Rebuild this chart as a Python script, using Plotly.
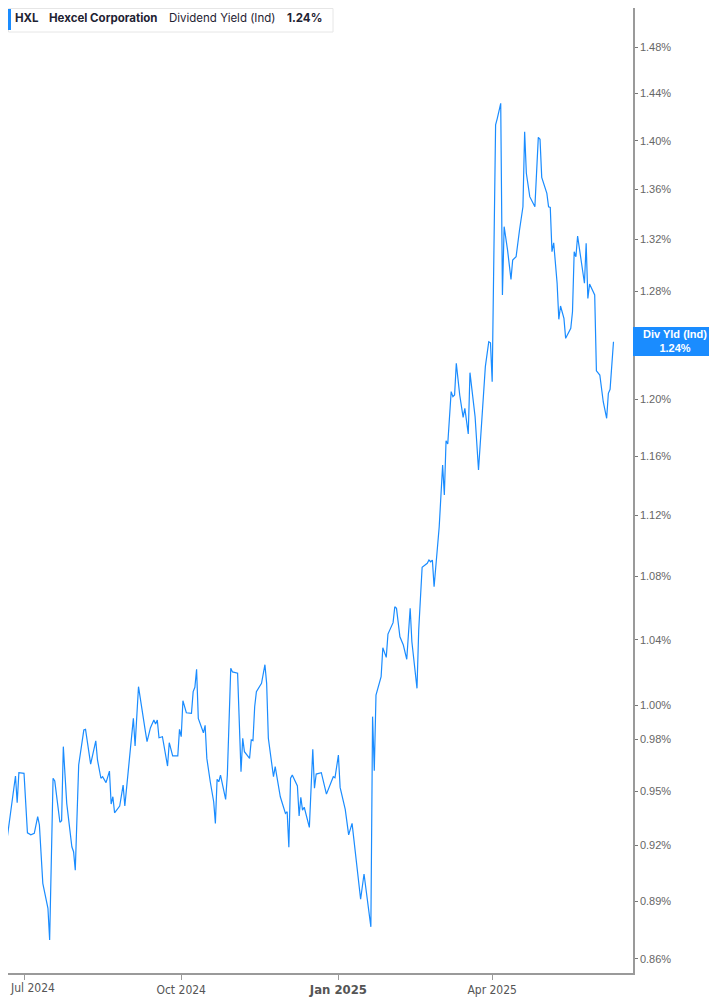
import plotly.graph_objects as go

# ---- data ----
dates = [
    "2024-06-17", "2024-06-18", "2024-06-21", "2024-06-26", "2024-06-27", "2024-06-28",
    "2024-07-01", "2024-07-03", "2024-07-05", "2024-07-07", "2024-07-09", "2024-07-10",
    "2024-07-12", "2024-07-15", "2024-07-16", "2024-07-18", "2024-07-19", "2024-07-22",
    "2024-07-23", "2024-07-24", "2024-07-26", "2024-07-29", "2024-07-30", "2024-07-31",
    "2024-08-02", "2024-08-05", "2024-08-06", "2024-08-09", "2024-08-12", "2024-08-13",
    "2024-08-15", "2024-08-16", "2024-08-18", "2024-08-20", "2024-08-21", "2024-08-22",
    "2024-08-23", "2024-08-26", "2024-08-28", "2024-08-29", "2024-08-31",
    "2024-09-03", "2024-09-04", "2024-09-06", "2024-09-10", "2024-09-11", "2024-09-13",
    "2024-09-15", "2024-09-16", "2024-09-17", "2024-09-18", "2024-09-20", "2024-09-23",
    "2024-09-24", "2024-09-26", "2024-09-29", "2024-09-30",
    "2024-10-01", "2024-10-02", "2024-10-04", "2024-10-07", "2024-10-08", "2024-10-09",
    "2024-10-10", "2024-10-11", "2024-10-14", "2024-10-15", "2024-10-16", "2024-10-18",
    "2024-10-20", "2024-10-21", "2024-10-22", "2024-10-23", "2024-10-24", "2024-10-27",
    "2024-10-28", "2024-10-30", "2024-10-31",
    "2024-11-03", "2024-11-05", "2024-11-06", "2024-11-07", "2024-11-10", "2024-11-11",
    "2024-11-12", "2024-11-13", "2024-11-14", "2024-11-16", "2024-11-17", "2024-11-19",
    "2024-11-20", "2024-11-21", "2024-11-24", "2024-11-25", "2024-11-28",
    "2024-12-01", "2024-12-02", "2024-12-03", "2024-12-04", "2024-12-05", "2024-12-08",
    "2024-12-09", "2024-12-10", "2024-12-11", "2024-12-12", "2024-12-15", "2024-12-17",
    "2024-12-18", "2024-12-19", "2024-12-22", "2024-12-25", "2024-12-29", "2024-12-30",
    "2025-01-01", "2025-01-02", "2025-01-05", "2025-01-07", "2025-01-09", "2025-01-11",
    "2025-01-14", "2025-01-16", "2025-01-20", "2025-01-21", "2025-01-22", "2025-01-23",
    "2025-01-25", "2025-01-26", "2025-01-27", "2025-01-29", "2025-01-30",
    "2025-02-02", "2025-02-03", "2025-02-04", "2025-02-06", "2025-02-08", "2025-02-10",
    "2025-02-12", "2025-02-13", "2025-02-16", "2025-02-17", "2025-02-19", "2025-02-22",
    "2025-02-23", "2025-02-24", "2025-02-25", "2025-02-26",
    "2025-03-01", "2025-03-03", "2025-03-04", "2025-03-05", "2025-03-06", "2025-03-08",
    "2025-03-09", "2025-03-10", "2025-03-11", "2025-03-13", "2025-03-15", "2025-03-16",
    "2025-03-18", "2025-03-19", "2025-03-22", "2025-03-24", "2025-03-27", "2025-03-28",
    "2025-03-30", "2025-03-31",
    "2025-04-01", "2025-04-03", "2025-04-04", "2025-04-06", "2025-04-07", "2025-04-08",
    "2025-04-10", "2025-04-12", "2025-04-13", "2025-04-15", "2025-04-17", "2025-04-19",
    "2025-04-20", "2025-04-21", "2025-04-23", "2025-04-26", "2025-04-28", "2025-04-29",
    "2025-04-30",
    "2025-05-03", "2025-05-04", "2025-05-05", "2025-05-06", "2025-05-07", "2025-05-09",
    "2025-05-10", "2025-05-11", "2025-05-13", "2025-05-14", "2025-05-17", "2025-05-18",
    "2025-05-19", "2025-05-20", "2025-05-21", "2025-05-25", "2025-05-26", "2025-05-27",
    "2025-05-28", "2025-05-31",
    "2025-06-01", "2025-06-03", "2025-06-05", "2025-06-07", "2025-06-08", "2025-06-09",
    "2025-06-11",
]

yield_pct = [
    0.9443, 0.9485, 0.9230, 0.9589, 0.9437, 0.9608,
    0.9604, 0.9270, 0.9259, 0.9267, 0.9359, 0.9313,
    0.8995, 0.8862, 0.8696, 0.9576, 0.9560, 0.9328,
    0.9337, 0.9758, 0.9434, 0.9193, 0.9166, 0.9066,
    0.9652, 0.9855, 0.9859, 0.9657, 0.9792, 0.9681,
    0.9576, 0.9585, 0.9551, 0.9617, 0.9430, 0.9471,
    0.9381, 0.9419, 0.9537, 0.9419, 0.9617,
    0.9924, 0.9762, 1.0113, 0.9849, 0.9787, 0.9869,
    0.9914, 0.9890, 0.9914, 0.9810, 0.9816, 0.9646,
    0.9781, 0.9704, 0.9704, 0.9859,
    0.9816, 1.0029, 0.9957, 0.9954, 1.0083, 1.0109,
    1.0218, 0.9924, 0.9839, 0.9883, 0.9690, 0.9556,
    0.9443, 0.9322, 0.9570, 0.9556, 0.9594, 0.9456,
    0.9594, 1.0224, 1.0202,
    1.0194, 0.9613, 0.9807, 0.9729, 0.9690, 0.9797,
    0.9793, 0.9993, 1.0083, 1.0121, 1.0133, 1.0246,
    1.0133, 0.9807, 0.9585, 0.9642, 0.9471,
    0.9378, 0.9387, 0.9190, 0.9576, 0.9594, 0.9532,
    0.9363, 0.9468, 0.9396, 0.9412, 0.9300, 0.9742,
    0.9519, 0.9600, 0.9608, 0.9486, 0.9585, 0.9579,
    0.9709, 0.9524, 0.9400, 0.9258, 0.9322, 0.9157,
    0.8910, 0.9045, 0.8765, 0.9934, 0.9619, 1.0063,
    1.0133, 1.0173, 1.0350, 1.0291, 1.0435,
    1.0506, 1.0606, 1.0596, 1.0418, 1.0367, 1.0279,
    1.0596, 1.0387, 1.0103, 1.0460, 1.0858, 1.0884,
    1.0905, 1.0894, 1.0905, 1.0733,
    1.1124, 1.1540, 1.1336, 1.1709, 1.1686, 1.2056,
    1.2020, 1.2032, 1.2261, 1.2032, 1.1873, 1.1937,
    1.1756, 1.2193, 1.1877, 1.1506, 1.2087, 1.2237,
    1.2420, 1.2412,
    1.2127, 1.4132, 1.4188, 1.4315, 1.2771, 1.3301,
    1.3117, 1.2890, 1.3040, 1.3065, 1.3275, 1.3460,
    1.4075, 1.3731, 1.3541, 1.3460, 1.4028, 1.4012,
    1.3698,
    1.3568, 1.3460, 1.3455, 1.3104, 1.3174, 1.2860,
    1.2587, 1.2687, 1.2594, 1.2445, 1.2520, 1.2644,
    1.3104, 1.3065, 1.3227, 1.2860, 1.3170, 1.2745,
    1.2854, 1.2771,
    1.2207, 1.2176, 1.1984, 1.1866, 1.2044, 1.2073,
    1.2420,
]

y_tick_vals = [0.86, 0.89, 0.92, 0.95, 0.98, 1.00, 1.04, 1.08, 1.12, 1.16,
               1.20, 1.24, 1.28, 1.32, 1.36, 1.40, 1.44, 1.48, 1.52]
# the 1.24% label sits under the value box in the reference
y_tick_text = ["0.86%", "0.89%", "0.92%", "0.95%", "0.98%", "1.00%", "1.04%", "1.08%",
               "1.12%", "1.16%", "1.20%", "", "1.28%", "1.32%", "1.36%", "1.40%",
               "1.44%", "1.48%", "1.52%"]
x_tick_vals = ["2024-07-01", "2024-10-01", "2025-01-01", "2025-04-01"]
x_tick_text = ["", "Oct 2024",
               "<b><span style='font-size:13px'>Jan 2025</span></b>", "Apr 2025"]
first_x_label = "Jul 2024"

ticker = "HXL"
company = "Hexcel Corporation"
metric = "Dividend Yield (Ind)"
last_label = "1.24%"

# ---- figure ----
# the page body adds an 8px margin, so the figure is sized to fit the window
OFF = 8
W, H = 717 - OFF, 1005 - OFF
ML, MR, MT, MB = 0, 84, 0, 32
PW = W - ML - MR
PH = H - MT - MB
BLUE = "#1a8cff"
XFONT = "Liberation Sans Narrow, DejaVu Sans Condensed, Arial Narrow, sans-serif"


def px_x(page_x):
    return (page_x - OFF - ML) / PW


def px_y(page_y):
    return 1 - (page_y - OFF - MT) / PH


fig = go.Figure()
fig.add_trace(go.Scatter(
    x=dates, y=yield_pct, mode="lines",
    line=dict(color=BLUE, width=1.2),
    hoverinfo="skip", showlegend=False,
))

fig.update_layout(
    width=W, height=H,
    margin=dict(l=ML, r=MR, t=MT, b=MB, pad=0),
    paper_bgcolor="white", plot_bgcolor="white",
    showlegend=False,
    font=dict(family="Liberation Sans, Arial, sans-serif", color="#555555", size=11),
    xaxis=dict(
        type="date",
        range=["2024-06-21 15:00", "2025-06-22 10:00"],
        tickvals=x_tick_vals, ticktext=x_tick_text,
        showgrid=False, zeroline=False,
        showline=True, linecolor="#9a9a9a", linewidth=1.5,
        ticks="outside", ticklen=5, tickcolor="#9a9a9a", tickwidth=1,
        tickfont=dict(family=XFONT, size=12, color="#555555"),
    ),
    yaxis=dict(
        type="log", side="right",
        range=[-0.06920, 0.18046],
        tickvals=y_tick_vals, ticktext=y_tick_text,
        showgrid=False, zeroline=False,
        showline=True, linecolor="#9a9a9a", linewidth=1.5,
        ticks="outside", ticklen=3, tickcolor="#777777", tickwidth=1,
        tickfont=dict(family="Liberation Sans, Arial, sans-serif", size=11, color="#666666"),
    ),
)

# first x label (would be cut by the left edge as a tick label)
fig.add_annotation(xref="paper", yref="paper", x=px_x(8), y=px_y(988),
                   xanchor="left", yanchor="middle", showarrow=False,
                   text=first_x_label,
                   font=dict(family=XFONT, size=12, color="#555555"))

# header box
fig.add_shape(type="rect", xref="paper", yref="paper",
              x0=px_x(8.5), x1=px_x(333), y0=px_y(32), y1=px_y(8.5),
              line=dict(color="#e6e6e6", width=1), fillcolor="white", layer="above")
fig.add_shape(type="rect", xref="paper", yref="paper",
              x0=px_x(8), x1=px_x(11), y0=px_y(30), y1=px_y(9),
              line=dict(width=0), fillcolor=BLUE, layer="above")
hdr_font = "Inter, Noto Sans, sans-serif"
for px, txt, bold in [(13, ticker, True), (47, company, True), (167, metric, False),
                      (285, last_label, True)]:
    fig.add_annotation(xref="paper", yref="paper", x=px_x(px), y=px_y(17.5),
                       xanchor="left", yanchor="middle", showarrow=False,
                       text=f"<b>{txt}</b>" if bold else txt,
                       font=dict(family=hdr_font, size=11.5, color="#1f2333"))

# right value label
fig.add_shape(type="rect", xref="paper", yref="paper",
              x0=px_x(633), x1=px_x(717), y0=px_y(356), y1=px_y(327),
              line=dict(width=0), fillcolor=BLUE, layer="above")
fig.add_annotation(xref="paper", yref="paper", x=px_x(675), y=px_y(341.5),
                   xanchor="center", yanchor="middle", showarrow=False,
                   text=f"<b>Div Yld (Ind)</b><br><b>{last_label}</b>",
                   font=dict(family="Liberation Sans, Arial, sans-serif", size=11, color="white"))

fig.write_html("out.html")
